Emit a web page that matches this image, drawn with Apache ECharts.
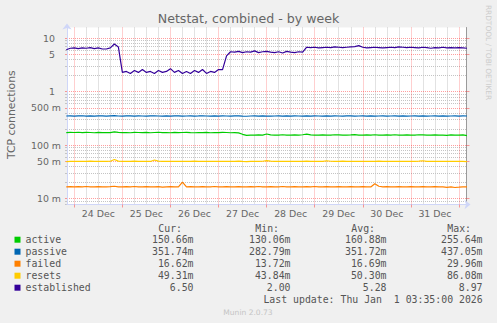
<!DOCTYPE html>
<html><head><meta charset="utf-8">
<script src="https://cdn.jsdelivr.net/npm/echarts@6/dist/echarts.min.js"></script>
<style>html,body{margin:0;padding:0;background:#f0f0f0;}#c{width:497px;height:323px;}</style>
</head><body><div id="c"></div>
<script>
// ---------- data ----------
const seriesNames = ['active', 'passive', 'failed', 'resets', 'established'];
// samples every 2 hours starting Tue Dec 23 2025 20:00
const sampleStart = Date.UTC(2025, 11, 23, 20, 0);
const sampleStepHours = 2;

const active = [
  0.172,0.174,0.173,0.175,0.172,0.174,0.173,0.171,0.174,0.172,
  0.173,0.172,0.178,0.174,0.172,0.173,0.171,0.174,0.173,0.172,
  0.174,0.171,0.173,0.175,0.172,0.173,0.171,0.174,0.172,0.173,
  0.174,0.172,0.171,0.173,0.172,0.174,0.171,0.173,0.172,0.174,
  0.173,0.171,0.172,0.170,0.160,0.153,0.155,0.154,0.156,0.155,
  0.162,0.156,0.154,0.155,0.157,0.155,0.154,0.156,0.155,0.157,
  0.161,0.156,0.154,0.155,0.156,0.154,0.155,0.157,0.156,0.154,
  0.155,0.156,0.158,0.155,0.154,0.156,0.155,0.157,0.155,0.154,
  0.156,0.155,0.157,0.154,0.155,0.156,0.154,0.155,0.157,0.156,
  0.154,0.155,0.156,0.154,0.155,0.153,0.156,0.155,0.154,0.156,
  0.151
];
const passive = [
  0.352,0.355,0.350,0.353,0.356,0.351,0.354,0.349,0.353,0.355,
  0.351,0.354,0.357,0.352,0.350,0.353,0.355,0.351,0.354,0.352,
  0.349,0.353,0.356,0.352,0.350,0.354,0.351,0.353,0.355,0.350,
  0.352,0.354,0.351,0.353,0.356,0.352,0.349,0.353,0.351,0.354,
  0.352,0.350,0.353,0.355,0.351,0.348,0.352,0.354,0.350,0.353,
  0.351,0.349,0.352,0.354,0.350,0.353,0.351,0.355,0.352,0.350,
  0.353,0.351,0.354,0.352,0.349,0.353,0.351,0.354,0.352,0.350,
  0.353,0.355,0.351,0.352,0.354,0.350,0.353,0.351,0.352,0.354,
  0.350,0.352,0.355,0.351,0.353,0.349,0.352,0.354,0.351,0.353,
  0.350,0.352,0.354,0.351,0.353,0.350,0.352,0.354,0.351,0.353,
  0.352
];
const failed = [
  0.0167,0.0168,0.0166,0.0168,0.0167,0.0169,0.0167,0.0166,0.0168,0.0167,
  0.0166,0.0168,0.0171,0.0167,0.0166,0.0168,0.0167,0.0169,0.0166,0.0167,
  0.0168,0.0166,0.0167,0.0168,0.0165,0.0167,0.0168,0.0166,0.0167,0.0205,
  0.0167,0.0168,0.0166,0.0167,0.0168,0.0166,0.0167,0.0169,0.0167,0.0166,
  0.0168,0.0167,0.0166,0.0168,0.0167,0.0166,0.0168,0.0167,0.0169,0.0166,
  0.0167,0.0168,0.0166,0.0167,0.0169,0.0167,0.0166,0.0168,0.0167,0.0166,
  0.0168,0.0167,0.0169,0.0166,0.0167,0.0168,0.0166,0.0167,0.0168,0.0166,
  0.0167,0.0168,0.0166,0.0167,0.0168,0.0167,0.0166,0.0190,0.0171,0.0167,
  0.0168,0.0166,0.0167,0.0168,0.0167,0.0166,0.0168,0.0167,0.0166,0.0168,
  0.0167,0.0166,0.0168,0.0167,0.0166,0.0163,0.0167,0.0162,0.0164,0.0167,
  0.0166
];
const resets = [
  0.0495,0.0500,0.0498,0.0502,0.0497,0.0500,0.0503,0.0498,0.0501,0.0497,
  0.0500,0.0502,0.0540,0.0505,0.0498,0.0501,0.0499,0.0503,0.0498,0.0500,
  0.0502,0.0497,0.0530,0.0505,0.0499,0.0501,0.0498,0.0502,0.0500,0.0497,
  0.0501,0.0499,0.0503,0.0498,0.0500,0.0502,0.0497,0.0501,0.0499,0.0502,
  0.0498,0.0501,0.0500,0.0503,0.0497,0.0494,0.0500,0.0502,0.0498,0.0501,
  0.0515,0.0503,0.0499,0.0501,0.0498,0.0502,0.0500,0.0497,0.0501,0.0499,
  0.0503,0.0500,0.0498,0.0501,0.0499,0.0512,0.0502,0.0498,0.0500,0.0503,
  0.0499,0.0501,0.0498,0.0502,0.0500,0.0497,0.0501,0.0499,0.0503,0.0500,
  0.0498,0.0501,0.0499,0.0502,0.0500,0.0497,0.0501,0.0499,0.0503,0.0512,
  0.0500,0.0498,0.0501,0.0499,0.0502,0.0500,0.0497,0.0501,0.0499,0.0500,
  0.0493
];
const established = [
  6.1,6.5,6.6,6.4,6.6,6.5,6.7,6.4,6.6,6.3,
  6.3,6.6,7.8,6.9,2.3,2.4,2.2,2.5,2.3,2.6,
  2.3,2.4,2.2,2.5,2.3,2.4,2.7,2.3,2.5,2.2,
  2.4,2.2,2.5,2.3,2.6,2.2,2.4,2.3,2.6,2.6,
  4.7,5.6,5.5,5.7,5.4,5.6,5.5,5.8,5.4,5.6,
  5.7,5.5,5.4,5.6,5.3,5.7,5.5,5.4,5.6,5.5,
  6.8,6.7,6.8,6.6,6.7,6.8,6.7,6.9,6.8,6.7,
  6.8,6.9,7.0,7.3,6.8,6.6,6.7,6.8,6.7,6.6,
  6.7,6.8,6.7,6.9,6.8,6.7,6.8,6.7,6.6,6.8,
  6.7,6.5,6.7,6.6,6.8,6.6,6.7,6.6,6.7,6.6,
  6.5
];
const seriesValues = [active, passive, failed, resets, established];

// legend statistics (as printed)
const curStats = ['150.66m', '351.74m', '16.62m', '49.31m', '6.50'];
const minStats = ['130.06m', '282.79m', '13.72m', '43.84m', '2.00'];
const avgStats = ['160.88m', '351.72m', '16.69m', '50.30m', '5.28'];
const maxStats = ['255.64m', '437.05m', '29.96m', '86.08m', '8.97'];
const statHeaders = ['Cur:', 'Min:', 'Avg:', 'Max:'];
const lastUpdate = 'Last update: Thu Jan  1 03:35:00 2026';

// axes
const yTickValues = [0.01, 0.05, 0.1, 0.5, 1, 5, 10];
const yTickLabels = ['10 m', '50 m', '100 m', '500 m', '1', '5', '10'];
const yMinorMultiples = [2, 3, 4, 6, 7, 8, 9];
const yDecades = [0.001, 0.01, 0.1, 1, 10];
const dayLabels = ['24 Dec', '25 Dec', '26 Dec', '27 Dec', '28 Dec', '29 Dec', '30 Dec', '31 Dec'];
const firstMidnight = Date.UTC(2025, 11, 24, 0, 0);
const xMin = Date.UTC(2025, 11, 23, 20, 22);
const xMax = Date.UTC(2026, 0, 1, 3, 46);
const yMin = 0.00779, yMax = 15.9;

const title = 'Netstat, combined - by week';
const yTitle = 'TCP connections';
const sideText = 'RRDTOOL / TOBI OETIKER';
const footer = 'Munin 2.0.73';

// ---------- build ----------
const palette = ['#00CC00', '#0066B3', '#FF8000', '#FFCC00', '#330099'];
const HOUR = 3600e3, DAY = 24 * HOUR;
const midnights = [], noons = [], quarters = [];
for (let t = firstMidnight; t <= xMax; t += DAY) midnights.push(t);
dayLabels.forEach((_, i) => noons.push(firstMidnight + i * DAY + 12 * HOUR));
for (let t = firstMidnight - DAY; t <= xMax; t += 6 * HOUR) {
  if (t >= xMin && (t - firstMidnight) % DAY !== 0) quarters.push(t);
}
const yMinor = [];
yDecades.forEach(d => yMinorMultiples.forEach(m => {
  const v = +(d * m).toPrecision(3);
  if (v >= yMin && v <= yMax) yMinor.push(v);
}));

const sansFont = 'DejaVu Sans';
const monoFont = 'DejaVu Sans Mono';
const txt = '#666666';
const axisBlue = '#CFD6F8';
const gridGray = '#c4c4c4';
const gridRed = 'rgba(255,0,0,0.38)';

function yLabel(v) {
  let best = 0;
  yTickValues.forEach((tv, i) => { if (Math.abs(Math.log10(tv) - Math.log10(v)) < Math.abs(Math.log10(yTickValues[best]) - Math.log10(v))) best = i; });
  const s = yTickLabels[best];
  return s.indexOf(' ') < 0 ? s + '\u00a0\u00a0' : s;
}
function xLabel(v) {
  const i = Math.round((v - firstMidnight - 12 * HOUR) / DAY);
  return dayLabels[i] || '';
}

const series = seriesNames.map((name, k) => ({
  name, type: 'line', xAxisIndex: 0, yAxisIndex: 0,
  showSymbol: false, symbol: 'none',
  color: palette[k],
  lineStyle: { width: 1.2, color: palette[k] },
  data: seriesValues[k].map((v, i) => [sampleStart + i * sampleStepHours * HOUR, v]),
  z: 10 + k, silent: true
}));

const monoStyle = { fontFamily: monoFont, fontSize: 9.85, color: '#555555', lineHeight: 12 };
const option = {
  animation: false,
  backgroundColor: '#f0f0f0',
  title: {
    text: title, left: 'center', top: 12, padding: 0,
    textStyle: { fontFamily: sansFont, fontSize: 12.6, fontWeight: 'normal', color: txt }
  },
  grid: { left: 67, right: 30.5, top: 27.5, bottom: 118.5, show: true, backgroundColor: '#ffffff', borderWidth: 0 },
  xAxis: [
    {
      type: 'value', min: xMin, max: xMax, position: 'bottom',
      axisLine: { show: true, lineStyle: { color: axisBlue, width: 1 }, symbol: ['none', 'arrow'], symbolSize: [7, 6], symbolOffset: [0, 4] },
      axisTick: { show: true, customValues: midnights, length: 3, inside: false, lineStyle: { color: gridRed } },
      axisLabel: { customValues: noons, formatter: xLabel, fontFamily: sansFont, fontSize: 9.4, color: txt, margin: 4 },
      splitLine: { show: true, lineStyle: { color: gridRed, type: [1, 1], width: 1 } },
      z: 3
    },
    {
      type: 'value', min: xMin, max: xMax, position: 'bottom',
      axisLine: { show: false }, axisLabel: { show: false },
      axisTick: { show: false, customValues: quarters },
      splitLine: { show: true, lineStyle: { color: gridGray, type: [1, 1], width: 1 } },
      z: 2
    }
  ],
  yAxis: [
    {
      type: 'log', logBase: 10, min: yMin, max: yMax, position: 'left',
      axisLine: { show: true, lineStyle: { color: axisBlue, width: 1 }, symbol: ['none', 'arrow'], symbolSize: [7, 6], symbolOffset: [0, 4] },
      axisTick: { show: true, customValues: yTickValues, length: 2, lineStyle: { color: gridRed } },
      axisLabel: { customValues: yTickValues, formatter: yLabel, fontFamily: sansFont, fontSize: 9.4, color: txt, margin: 6 },
      splitLine: { show: true, lineStyle: { color: gridRed, type: [1, 1], width: 1 } },
      z: 3
    },
    {
      type: 'log', logBase: 10, min: yMin, max: yMax, position: 'left',
      axisLine: { show: false }, axisLabel: { show: false },
      axisTick: { show: true, customValues: yMinor, length: 2, lineStyle: { color: gridGray } },
      splitLine: { show: true, lineStyle: { color: gridGray, type: [1, 1], width: 1 } },
      z: 2
    },
    {
      type: 'log', logBase: 10, min: yMin, max: yMax, position: 'right',
      axisLine: { show: true, lineStyle: { color: '#9a9a9a', width: 1 } },
      axisTick: { show: true, customValues: yTickValues, length: 3, lineStyle: { color: gridRed } },
      axisLabel: { show: false },
      splitLine: { show: false },
      z: 3
    }
  ],
  legend: {
    data: seriesNames, orient: 'vertical', left: 14.5, top: 233.7,
    itemWidth: 6, itemHeight: 6, itemGap: 0, padding: 0, icon: 'rect', selectedMode: false,
    itemStyle: { borderWidth: 0 },
    textStyle: Object.assign({}, monoStyle, {
      rich: {
        n: Object.assign({}, monoStyle, { width: 126, align: 'left' }),
        c: Object.assign({}, monoStyle, { width: 42, align: 'right' }),
        mi: Object.assign({}, monoStyle, { width: 97, align: 'right' }),
        a: Object.assign({}, monoStyle, { width: 96, align: 'right' }),
        mx: Object.assign({}, monoStyle, { width: 96, align: 'right' })
      }
    }),
    formatter: name => {
      const k = seriesNames.indexOf(name);
      return `{n|${name}}{c|${curStats[k]}}{mi|${minStats[k]}}{a|${avgStats[k]}}{mx|${maxStats[k]}}`;
    }
  },
  graphic: [
    { type: 'text', x: 11, y: 114.6, rotation: Math.PI / 2,
      style: { text: yTitle, font: '10.8px "DejaVu Sans"', fill: txt, align: 'center', verticalAlign: 'middle', textAlign: 'center', textVerticalAlign: 'middle' } },
    { type: 'text', x: 488, y: 52.5, rotation: -Math.PI / 2,
      style: { text: sideText, font: '7.4px "DejaVu Sans"', fill: '#cccccc', align: 'center', verticalAlign: 'middle', textAlign: 'center', textVerticalAlign: 'middle' } },
    { type: 'text', x: 248, y: 312.7,
      style: { text: footer, font: '7.55px "DejaVu Sans"', fill: '#c4c4c4', align: 'center', verticalAlign: 'middle', textAlign: 'center', textVerticalAlign: 'middle' } },
    { type: 'text', x: 482.7, y: 299,
      style: { text: lastUpdate, font: '9.85px "DejaVu Sans Mono"', fill: '#555555', align: 'right', verticalAlign: 'middle', textAlign: 'right', textVerticalAlign: 'middle' } }
  ].concat(statHeaders.map((h, i) => ({
    type: 'text', x: [182, 279, 375, 471][i], y: 228,
    style: { text: h, font: '9.85px "DejaVu Sans Mono"', fill: '#555555', align: 'right', verticalAlign: 'middle', textAlign: 'right', textVerticalAlign: 'middle' }
  }))),
  series
};

const chart = echarts.init(document.getElementById('c'), null, { renderer: 'svg' });
chart.setOption(option);
</script>
</body></html>
